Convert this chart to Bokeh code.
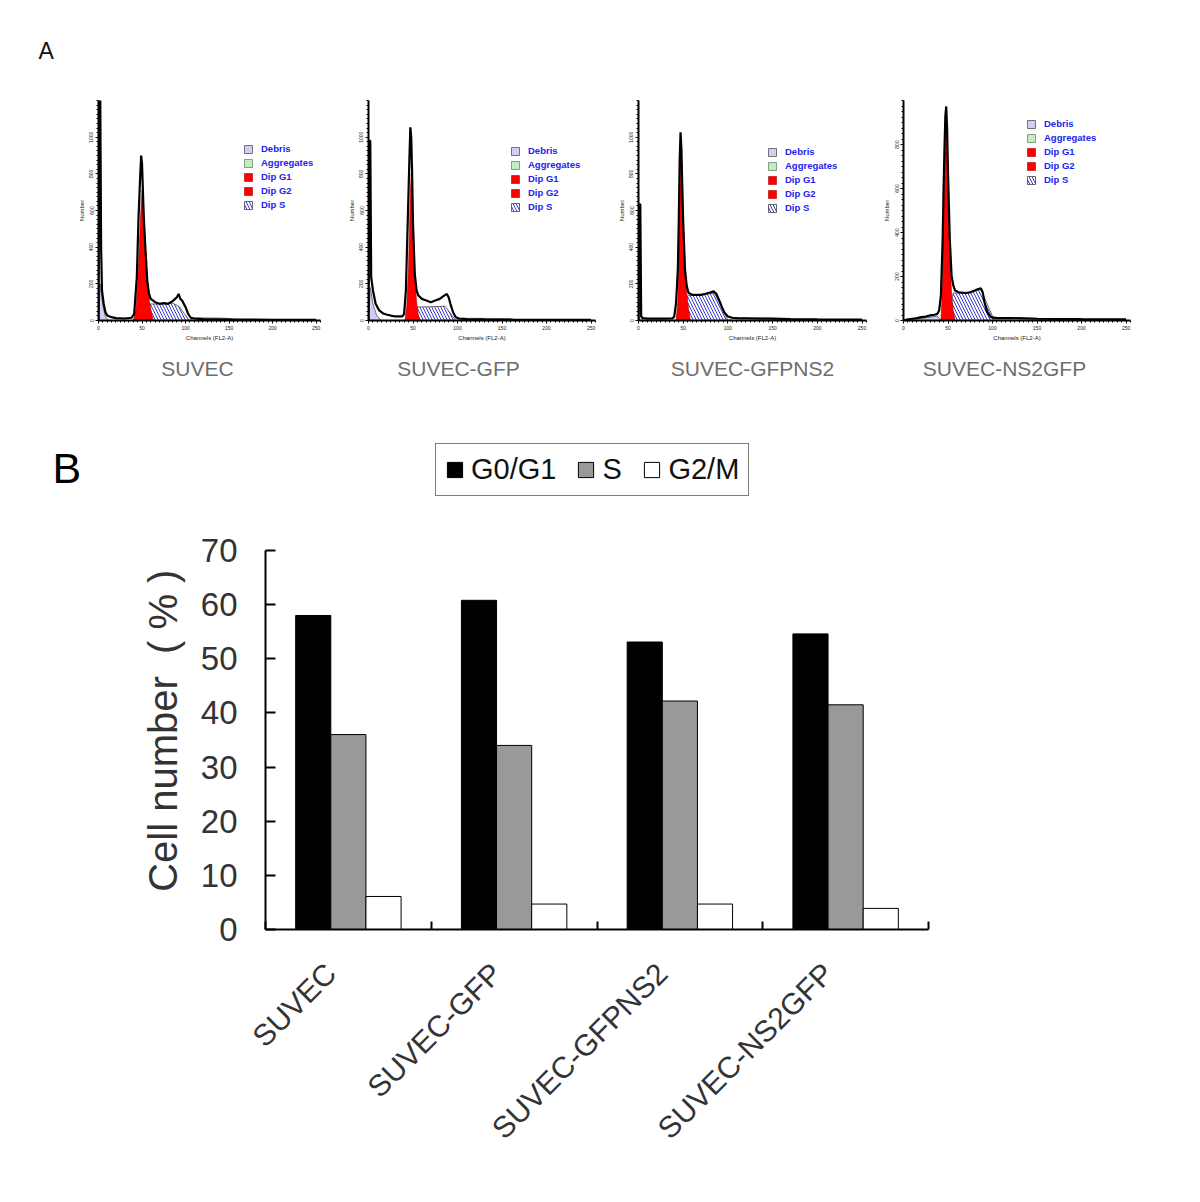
import math
from bokeh.plotting import figure
from bokeh.models import (Range1d, FixedTicker, Legend, LegendItem, Label,
                          ColumnDataSource)
from bokeh.core.properties import value
from bokeh.layouts import column, row
from bokeh.transform import dodge
from bokeh.embed import file_html
from bokeh.resources import INLINE

FONT = "Liberation Sans"

# ---------------- Panel A data (flow cytometry histograms) ----------------
panel_titles = ["SUVEC", "SUVEC-GFP", "SUVEC-GFPNS2", "SUVEC-NS2GFP"]

h1_ch = [0, 1, 2, 3, 4, 6, 8, 10, 15, 20, 30, 38, 41, 44, 46, 48, 49, 50, 52, 54, 56, 58, 60,
         65, 70, 75, 80, 85, 88, 90, 92, 94, 96, 100, 103, 106, 110, 120, 140, 160, 180, 200,
         220, 240, 250]
h1_n = [0, 1250, 1250, 400, 164, 90, 45, 27, 18, 13, 11, 15, 36, 236, 564, 800, 900, 855, 564,
        382, 218, 145, 118, 100, 91, 95, 91, 105, 118, 127, 145, 118, 109, 73, 36, 15, 11, 7, 6,
        5, 5, 4, 4, 3, 3]
g1_1_ch = [40, 43, 45, 47, 49, 50, 51, 53, 55, 57, 59, 61, 63]
g1_1_n = [0, 60, 200, 420, 640, 710, 690, 500, 300, 160, 90, 40, 0]
s_1_ch = [46, 58, 70, 85, 93, 104]
s_1_n = [0, 90, 90, 95, 75, 0]
ag_1_ch = [104, 110, 130, 150, 160]
ag_1_n = [0, 15, 15, 12, 0]
db_1_ch = [0, 2, 5, 8, 12]
db_1_n = [0, 200, 80, 20, 0]

h2_ch = [0, 1, 2, 3, 5, 8, 12, 16, 20, 25, 30, 38, 40, 42, 44, 46, 47, 48, 49, 50, 52, 54, 56,
         60, 65, 70, 75, 80, 85, 88, 90, 92, 95, 98, 102, 110, 130, 160, 200, 250]
h2_n = [0, 980, 980, 236, 164, 91, 55, 40, 33, 27, 22, 22, 36, 164, 527, 890, 1054, 1000, 800,
        527, 255, 164, 136, 118, 109, 100, 109, 118, 136, 145, 127, 91, 45, 18, 11, 7, 6, 5, 4, 3]
g1_2_ch = [41, 43, 45, 46, 47, 48, 49, 50, 52, 54, 56, 58]
g1_2_n = [0, 80, 300, 500, 700, 800, 700, 500, 250, 100, 30, 0]
s_2_ch = [45, 53, 70, 86, 98]
s_2_n = [0, 73, 75, 78, 0]
ag_2_ch = [98, 105, 130, 160, 170]
ag_2_n = [0, 12, 12, 10, 0]
db_2_ch = [0, 2, 5, 9, 14]
db_2_n = [0, 180, 90, 30, 0]

h3_ch = [0, 1, 2, 3, 5, 10, 20, 30, 38, 40, 42, 44, 45, 46, 47, 48, 49, 50, 52, 54, 56, 60, 65,
         70, 75, 80, 84, 87, 90, 93, 96, 100, 105, 110, 130, 150, 170, 200, 250]
h3_n = [0, 634, 634, 22, 13, 10, 10, 10, 11, 22, 95, 278, 533, 862, 1026, 935, 716, 533, 278,
        186, 150, 140, 140, 140, 146, 153, 159, 146, 113, 77, 44, 22, 15, 13, 11, 10, 7, 6, 5]
g1_3_ch = [42, 44, 45, 46, 47, 48, 49, 50, 52, 54, 56, 58]
g1_3_n = [0, 100, 300, 600, 850, 900, 800, 600, 300, 150, 60, 0]
s_3_ch = [46, 55, 70, 85, 100]
s_3_n = [0, 135, 140, 150, 0]
ag_3_ch = [100, 105, 130, 150, 155]
ag_3_n = [0, 14, 14, 12, 0]
db_3_ch = [0, 1, 3, 5]
db_3_n = [0, 100, 20, 0]

h4_ch = [0, 5, 10, 15, 20, 25, 30, 35, 38, 40, 42, 44, 45, 46, 47, 48, 49, 50, 52, 54, 56, 58,
         62, 70, 75, 80, 84, 87, 89, 91, 94, 98, 105, 120, 150, 200, 250]
h4_n = [0, 5, 8, 11, 15, 18, 23, 26, 30, 45, 113, 370, 596, 777, 928, 973, 868, 671, 370, 204,
        158, 136, 128, 125, 128, 136, 143, 146, 128, 83, 38, 15, 11, 11, 8, 6, 5]
g1_4_ch = [42, 43, 44, 45, 46, 47, 48, 49, 50, 52, 54, 56, 58]
g1_4_n = [0, 80, 250, 450, 650, 820, 870, 800, 600, 300, 120, 40, 0]
s_4_ch = [47, 56, 70, 87, 102]
s_4_n = [0, 125, 125, 140, 0]
ag_4_ch = [100, 105, 130, 150, 160]
ag_4_n = [0, 12, 12, 10, 0]
db_4_ch = [0, 10, 25, 38, 42]
db_4_n = [0, 6, 12, 20, 0]

hist_x_ticks = [0, 50, 100, 150, 200, 250]
hist_legend_labels = ["Debris", "Aggregates", "Dip G1", "Dip G2", "Dip S"]

# ---------------- Panel B data (bar chart) ----------------
categories = ["SUVEC", "SUVEC-GFP", "SUVEC-GFPNS2", "SUVEC-NS2GFP"]
phase_labels = ["G0/G1", "S", "G2/M"]
g0g1 = [58.0, 60.8, 53.1, 54.6]
s_phase = [36.0, 34.0, 42.2, 41.5]
g2m = [6.1, 4.7, 4.7, 3.9]
y_ticks_b = [0, 10, 20, 30, 40, 50, 60, 70]
y_max_b = 70
y_label_b = "Cell number\u00a0\u00a0(\u00a0%\u00a0)"


def blank_fig(w, h):
    f = figure(width=w, height=h, x_range=Range1d(0, w), y_range=Range1d(0, h),
               output_backend="svg", toolbar_location=None, min_border=0,
               x_axis_location=None, y_axis_location=None)
    f.outline_line_color = None
    f.grid.visible = False
    return f


def hist_panel(width, left, right, ymax, yticks,
               ch, n, gc, gn, sc, sn, ac, an, dc, dn, leg_xy):
    p = figure(width=width, height=270, x_range=Range1d(0, 255), y_range=Range1d(0, ymax),
               output_backend="svg", toolbar_location=None,
               min_border_left=left, min_border_right=right,
               min_border_top=20, min_border_bottom=30)
    p.outline_line_color = None
    p.grid.visible = False

    r_db = p.patch(dc, dn, fill_color="#cfcff2", line_color="#555555", line_width=0.8)
    r_ag = p.patch(ac, an, fill_color="#c4ecc4", line_color="#6a8a6a", line_width=0.8)
    r_s = p.patch(sc, sn, fill_color="white", line_color="#444444", line_width=0.8,
                  hatch_pattern="\\", hatch_color="#3a3acc", hatch_scale=6, hatch_weight=1)
    r_g1 = p.patch(gc, gn, fill_color="#ff0000", line_color="#aa0000", line_width=0.6)
    p.line(ch, n, line_color="black", line_width=2.2)

    items = [LegendItem(label=hist_legend_labels[0], renderers=[r_db]),
             LegendItem(label=hist_legend_labels[1], renderers=[r_ag]),
             LegendItem(label=hist_legend_labels[2], renderers=[r_g1]),
             LegendItem(label=hist_legend_labels[3], renderers=[r_g1]),
             LegendItem(label=hist_legend_labels[4], renderers=[r_s])]
    leg = Legend(items=items, location=leg_xy, glyph_width=10, glyph_height=10,
                 label_text_font_size="9.5px", label_text_font_style="bold",
                 label_text_color="#2222ee", label_text_font=FONT, label_height=10,
                 label_standoff=8, spacing=3, padding=0, margin=0,
                 background_fill_alpha=0, border_line_color=None)
    p.add_layout(leg)

    p.xaxis.ticker = FixedTicker(ticks=hist_x_ticks, minor_ticks=list(range(0, 256, 5)))
    p.yaxis.ticker = FixedTicker(ticks=yticks,
                                 minor_ticks=list(range(0, int(ymax) + 1, 25)))
    for ax in (p.xaxis[0], p.yaxis[0]):
        ax.axis_line_width = 2
        ax.axis_line_color = "black"
        ax.major_tick_out = 3
        ax.major_tick_in = 0
        ax.minor_tick_out = 2
        ax.minor_tick_in = 0
        ax.major_tick_line_width = 1
        ax.major_label_text_font_size = "5px"
        ax.major_label_text_font = FONT
        ax.major_label_text_color = "#222222"
        ax.major_label_standoff = 2
        ax.axis_label_text_font_size = "6px"
        ax.axis_label_text_font_style = "normal"
        ax.axis_label_text_font = FONT
        ax.axis_label_text_color = "#222222"
        ax.axis_label_standoff = 2
    p.xaxis.axis_label = "Channels (FL2-A)"
    p.yaxis.axis_label = "Number"
    p.yaxis.major_label_orientation = "vertical"
    return p


# ---- top strip with letter A ----
topA = blank_fig(1192, 80)
topA.add_layout(Label(x=38, y=30, text="A", text_align="left", text_baseline="alphabetic",
                      text_font_size="23px", text_color="#111111", text_font=FONT))

# ---- histograms row ----
p1 = hist_panel(340, 98, 20, 1200, [0, 200, 400, 600, 800, 1000],
                h1_ch, h1_n, g1_1_ch, g1_1_n, s_1_ch, s_1_n, ag_1_ch, ag_1_n,
                db_1_ch, db_1_n, (145, 110))
p2 = hist_panel(270, 28, 15, 1200, [0, 200, 400, 600, 800, 1000],
                h2_ch, h2_n, g1_2_ch, g1_2_n, s_2_ch, s_2_n, ag_2_ch, ag_2_n,
                db_2_ch, db_2_n, (142, 108))
p3 = hist_panel(270, 28, 14, 1200, [0, 200, 400, 600, 800, 1000],
                h3_ch, h3_n, g1_3_ch, g1_3_n, s_3_ch, s_3_n, ag_3_ch, ag_3_n,
                db_3_ch, db_3_n, (129, 107))
p4 = hist_panel(312, 22, 62, 1000, [0, 200, 400, 600, 800],
                h4_ch, h4_n, g1_4_ch, g1_4_n, s_4_ch, s_4_n, ag_4_ch, ag_4_n,
                db_4_ch, db_4_n, (123, 135))

# ---- histogram titles strip ----
strip = blank_fig(1192, 50)
title_x = [197, 458, 752, 1004]
for tx, tt in zip(title_x, panel_titles):
    strip.add_layout(Label(x=tx, y=32, text=tt, text_align="center", text_baseline="middle",
                           text_font_size="21px", text_color="#6e6e6e", text_font=FONT))

# ---- letter B + y label, and bar chart ----
figB = blank_fig(190, 800)
figB.add_layout(Label(x=52, y=711, text="B", text_align="left", text_baseline="alphabetic",
                      text_font_size="43px", text_color="black", text_font=FONT))
figB.text(x=[162], y=[58], text=[y_label_b], angle=math.pi / 2,
          text_align="left", text_baseline="middle",
          text_font=value(FONT), text_font_size=value("40px"), text_color="#333333")

frame_h = 519
axis_px = 379
src = ColumnDataSource(dict(
    x=[i + 0.5 for i in range(len(categories))],
    g0g1=g0g1, s=s_phase, g2m=g2m))

pB = figure(width=1002, height=800, x_range=Range1d(0, len(categories)),
            y_range=Range1d(0, y_max_b * frame_h / axis_px),
            output_backend="svg", toolbar_location=None,
            min_border_left=75, min_border_right=264, min_border_top=10,
            min_border_bottom=800 - 10 - frame_h)
pB.outline_line_color = None
pB.grid.visible = False

bw = 0.212
rb1 = pB.vbar(x=dodge("x", -bw, range=pB.x_range), top="g0g1", width=bw, source=src,
              fill_color="black", line_color="black", line_width=1)
rb2 = pB.vbar(x=dodge("x", 0.0, range=pB.x_range), top="s", width=bw, source=src,
              fill_color="#999999", line_color="black", line_width=1)
rb3 = pB.vbar(x=dodge("x", bw, range=pB.x_range), top="g2m", width=bw, source=src,
              fill_color="white", line_color="black", line_width=1)

legB = Legend(items=[LegendItem(label=phase_labels[0], renderers=[rb1]),
                     LegendItem(label=phase_labels[1], renderers=[rb2]),
                     LegendItem(label=phase_labels[2], renderers=[rb3])],
              location=(170, 433), orientation="horizontal",
              glyph_width=19, glyph_height=19, label_standoff=7, spacing=20,
              padding=9, margin=0, label_text_font_size="29px", label_text_font=FONT,
              label_text_color="#111111", border_line_color="black", border_line_width=1.5,
              background_fill_color="white")
pB.add_layout(legB)

pB.yaxis.ticker = FixedTicker(ticks=y_ticks_b)
pB.yaxis.bounds = (0, y_max_b)
pB.yaxis.major_tick_in = 10
pB.yaxis.major_tick_out = 0
pB.yaxis.minor_tick_line_color = None
pB.yaxis.major_label_standoff = 28
pB.yaxis.major_label_text_font_size = "33px"

pB.xaxis.ticker = FixedTicker(ticks=[i + 0.5 for i in range(len(categories))],
                              minor_ticks=list(range(len(categories) + 1)))
pB.xaxis.major_label_overrides = {i + 0.5: c + "\u00a0\u00a0\u00a0"
                                  for i, c in enumerate(categories)}
pB.xaxis.major_label_orientation = math.pi / 4
pB.xaxis.major_tick_in = 0
pB.xaxis.major_tick_out = 0
pB.xaxis.minor_tick_in = 8
pB.xaxis.minor_tick_out = 0
pB.xaxis.major_label_standoff = 21
pB.xaxis.major_label_text_font_size = "30px"

for ax in (pB.xaxis[0], pB.yaxis[0]):
    ax.axis_line_width = 2
    ax.axis_line_color = "black"
    ax.major_tick_line_width = 2
    ax.minor_tick_line_width = 2
    ax.major_label_text_font = FONT
    ax.major_label_text_color = "#333333"

layout = column(topA, row(p1, p2, p3, p4), strip, row(figB, pB))
open("out.html", "w").write(file_html(layout, INLINE))
